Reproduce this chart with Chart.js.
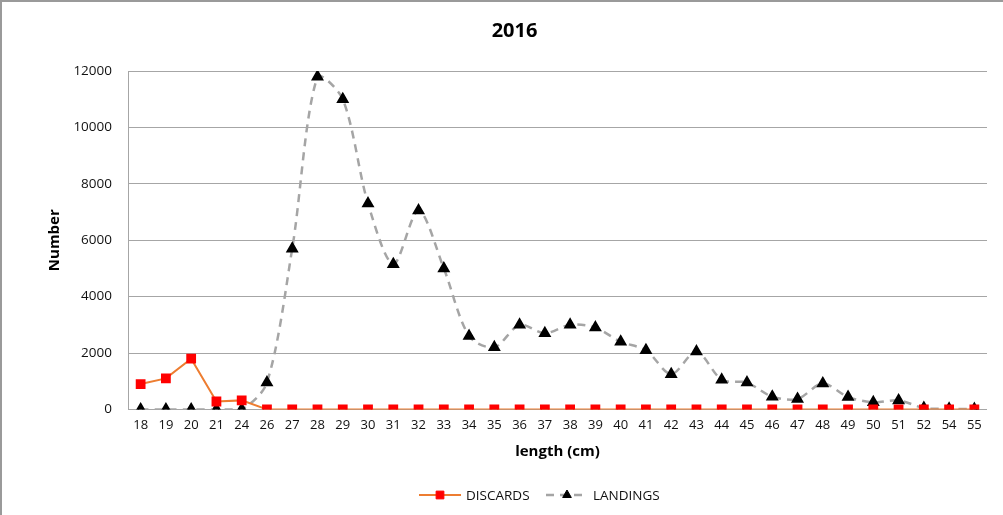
<!DOCTYPE html>
<html>
<head>
<meta charset="utf-8">
<script src="https://cdn.jsdelivr.net/npm/chart.js@4"></script>
<style>
    html, body { margin: 0; padding: 0; background: #fff; overflow: hidden; }
    #wrap { position: relative; width: 1003px; height: 515px; box-sizing: border-box;
            border-top: 2px solid #9a9a9a; border-left: 2px solid #9a9a9a; }
    #lengthChart { display: block; }
</style>
</head>
<body>
<div id="wrap"><canvas id="lengthChart" width="1001" height="513"></canvas></div>
<script>
// length classes (cm)
const lengths = ["18","19","20","21","24","26","27","28","29","30","31","32","33","34","35","36","37","38","39","40","41","42","43","44","45","46","47","48","49","50","51","52","54","55"];
const discards = [900,1100,1800,280,320,0,0,0,0,0,0,0,0,0,0,0,0,0,0,0,0,0,0,0,0,0,0,0,0,0,0,0,0,0];
const landings = [0,0,0,0,0,950,5700,11800,11000,7300,5150,7050,5000,2600,2200,3000,2700,3000,2900,2400,2100,1250,2050,1050,950,450,370,920,440,250,320,50,20,10];
const yTicks = [0,2000,4000,6000,8000,10000,12000];

const fontName = "'Open Sans', sans-serif";

// legend drawn as line + marker, like the spreadsheet one
const lineLegend = {
    id: "lineLegend",
    afterDraw(chart) {
        let ctx = chart.ctx;
        let y = 493;
        let items = [
            { x: 417, ds: chart.data.datasets[0] },
            { x: 544, ds: chart.data.datasets[1] }
        ];
        ctx.save();
        for (let i = 0; i < items.length; i++) {
            let it = items[i];
            ctx.strokeStyle = it.ds.borderColor;
            ctx.lineWidth = it.ds.borderWidth;
            ctx.setLineDash(it.ds.borderDash || []);
            ctx.beginPath();
            ctx.moveTo(it.x, y);
            ctx.lineTo(it.x + 42, y);
            ctx.stroke();
            ctx.setLineDash([]);
            ctx.fillStyle = it.ds.pointBackgroundColor;
            ctx.strokeStyle = it.ds.pointBorderColor;
            ctx.lineWidth = 1;
            Chart.helpers.drawPoint(ctx, { pointStyle: it.ds.pointStyle, radius: it.ds.pointRadius, borderWidth: 1 }, it.x + 21, y);
            ctx.fillStyle = "#111";
            ctx.font = "13.5px " + fontName;
            ctx.textBaseline = "middle";
            ctx.fillText(it.ds.label, it.x + 47, y + 1);
        }
        ctx.restore();
    }
};

new Chart(document.querySelector("#lengthChart"), {
    type: "line",
    data: {
        labels: lengths,
        datasets: [{
            label: "DISCARDS",
            data: discards,
            borderColor: "#ED7D31",
            borderWidth: 2,
            pointStyle: "rect",
            pointRadius: 5.5,
            pointBackgroundColor: "#FF0000",
            pointBorderColor: "#FF0000",
            tension: 0
        }, {
            label: "LANDINGS",
            data: landings,
            borderColor: "#A5A5A5",
            borderWidth: 2.5,
            borderDash: [8, 6],
            pointStyle: "triangle",
            pointRadius: 5,
            pointBackgroundColor: "#000000",
            pointBorderColor: "#000000",
            tension: 0.3
        }]
    },
    options: {
        responsive: false,
        animation: false,
        layout: { padding: { left: 40, right: 16, top: 4, bottom: 50 } },
        plugins: {
            legend: { display: false },
            tooltip: { enabled: false },
            title: {
                display: true,
                text: "2016",
                color: "#000",
                font: { family: fontName, size: 20, weight: "bold" },
                padding: { top: 13, bottom: 28 }
            }
        },
        scales: {
            x: {
                offset: true,
                grid: { display: false, drawTicks: false },
                border: { display: false },
                ticks: { color: "#111", font: { family: fontName, size: 13 }, padding: 8, maxRotation: 0, autoSkip: false },
                title: { display: true, text: "length (cm)", color: "#000",
                         font: { family: fontName, size: 15, weight: "bold" }, padding: { top: 2 } }
            },
            y: {
                min: 0,
                max: 12000,
                afterBuildTicks(axis) { axis.ticks = yTicks.map(v => ({ value: v })); },
                afterFit(axis) { axis.width = 86; },
                grid: { color: "#a6a6a6", lineWidth: 1, drawTicks: false },
                border: { display: true, color: "#a6a6a6" },
                ticks: { color: "#111", font: { family: fontName, size: 13.5 }, padding: 16,
                         callback: (v) => String(v) },
                title: { display: true, text: "Number", color: "#000",
                         font: { family: fontName, size: 15, weight: "bold" }, padding: { top: 4, bottom: 0 } }
            }
        }
    },
    plugins: [lineLegend]
});
</script>
</body>
</html>
